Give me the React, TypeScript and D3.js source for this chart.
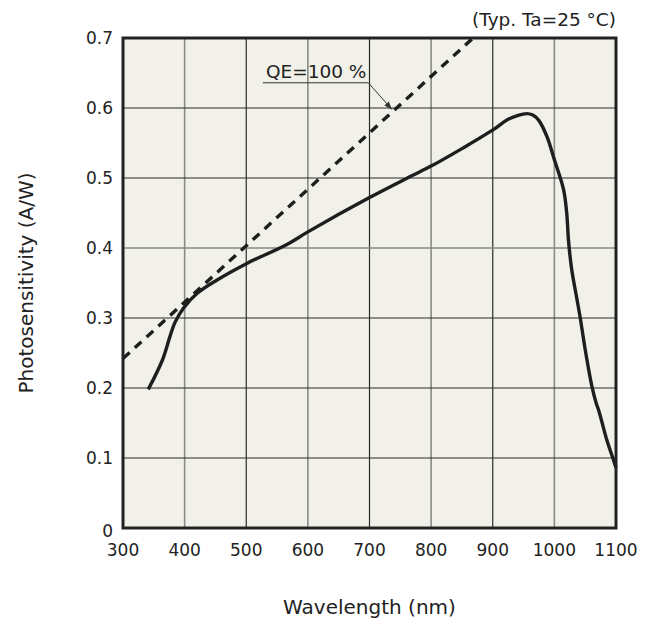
import * as React from 'react'
import * as d3 from 'd3'

// photosensitivity curve
const wavelength = [341, 364, 376, 384, 398, 420, 452, 501, 566, 600, 700, 766, 800, 850, 901, 923, 940, 955, 965, 975, 988, 1000, 1015, 1020, 1023, 1028, 1036, 1042, 1050, 1061, 1068, 1072, 1085, 1096, 1100]
const sensitivity = [0.198, 0.24, 0.273, 0.293, 0.314, 0.335, 0.354, 0.378, 0.405, 0.423, 0.472, 0.502, 0.517, 0.542, 0.569, 0.583, 0.589, 0.592, 0.59, 0.582, 0.559, 0.526, 0.483, 0.45, 0.41, 0.37, 0.33, 0.3, 0.255, 0.202, 0.178, 0.168, 0.126, 0.097, 0.086]

// QE = 100 % reference line (end points)
const qeWavelength = [300, 868]
const qeSensitivity = [0.242, 0.7]

const xTicks = [300, 400, 500, 600, 700, 800, 900, 1000, 1100]
const yTicks = [0, 0.1, 0.2, 0.3, 0.4, 0.5, 0.6, 0.7]
const majorX = [500, 700, 900]

const FONT = 'DejaVu Sans, Verdana, sans-serif'

export default function App() {
  const ref = React.useRef<SVGSVGElement>(null)

  React.useEffect(() => {
    const width = 656
    const height = 624
    const m = { left: 123, right: 40, top: 38, bottom: 96 }

    const svg = d3.select(ref.current)
    svg.selectAll('*').remove()

    const x = d3.scaleLinear().domain([300, 1100]).range([m.left, width - m.right])
    const y = d3.scaleLinear().domain([0, 0.7]).range([height - m.bottom, m.top])

    svg
      .append('rect')
      .attr('x', x(300))
      .attr('y', y(0.7))
      .attr('width', x(1100) - x(300))
      .attr('height', y(0) - y(0.7))
      .attr('fill', '#f2f1e9')

    // grid
    svg
      .append('g')
      .selectAll('line')
      .data(xTicks.slice(1, -1))
      .enter()
      .append('line')
      .attr('x1', (d) => x(d))
      .attr('x2', (d) => x(d))
      .attr('y1', y(0))
      .attr('y2', y(0.7))
      .attr('stroke', (d) => (majorX.includes(d) ? '#2a2a2a' : '#8a8a86'))
      .attr('stroke-width', (d) => (majorX.includes(d) ? 1.2 : 1.6))

    svg
      .append('g')
      .selectAll('line')
      .data(yTicks.slice(1, -1))
      .enter()
      .append('line')
      .attr('x1', x(300))
      .attr('x2', x(1100))
      .attr('y1', (d) => y(d))
      .attr('y2', (d) => y(d))
      .attr('stroke', (d) => (d === 0.4 ? '#8a8a86' : '#2a2a2a'))
      .attr('stroke-width', (d) => (d === 0.4 ? 1.6 : 1.2))

    // tick labels
    svg
      .append('g')
      .selectAll('text')
      .data(xTicks)
      .enter()
      .append('text')
      .attr('x', (d) => x(d))
      .attr('y', y(0) + 28)
      .attr('text-anchor', 'middle')
      .attr('font-family', FONT)
      .attr('font-size', 17)
      .attr('fill', '#222')
      .text((d) => d)

    svg
      .append('g')
      .selectAll('text')
      .data(yTicks)
      .enter()
      .append('text')
      .attr('x', x(300) - 10)
      .attr('y', (d) => y(d) + (d === 0 ? 9 : 6))
      .attr('text-anchor', 'end')
      .attr('font-family', FONT)
      .attr('font-size', 17)
      .attr('fill', '#222')
      .text((d) => (d === 0 ? '0' : d3.format('.1f')(d)))

    // QE line
    const qe = qeWavelength.map((w, i) => [w, qeSensitivity[i]] as [number, number])
    svg
      .append('path')
      .attr('d', d3.line().x((d) => x(d[0])).y((d) => y(d[1]))(qe))
      .attr('fill', 'none')
      .attr('stroke', '#1e1e1e')
      .attr('stroke-width', 3.4)
      .attr('stroke-dasharray', '9 7')

    // measured curve
    const pts = wavelength.map((w, i) => [w, sensitivity[i]] as [number, number])
    svg
      .append('path')
      .attr(
        'd',
        d3
          .line()
          .x((d) => x(d[0]))
          .y((d) => y(d[1]))
          .curve(d3.curveCatmullRom.alpha(0.5))(pts)
      )
      .attr('fill', 'none')
      .attr('stroke', '#1e1e1e')
      .attr('stroke-width', 3.4)
      .attr('stroke-linejoin', 'round')

    // annotation
    const tipW = 738
    const tipS = qeSensitivity[0] + ((tipW - qeWavelength[0]) / (qeWavelength[1] - qeWavelength[0])) * (qeSensitivity[1] - qeSensitivity[0])
    const ux0 = x(527)
    const ux1 = x(698)
    const uy = y(0.636)
    const tx = x(tipW) - 1
    const ty = y(tipS) - 2
    svg
      .append('polyline')
      .attr('points', `${ux0},${uy} ${ux1},${uy} ${tx},${ty}`)
      .attr('fill', 'none')
      .attr('stroke', '#333')
      .attr('stroke-width', 1)
    const ang = Math.atan2(ty - uy, tx - ux1)
    const al = 8
    const aw = 3
    const bx = tx - al * Math.cos(ang)
    const by = ty - al * Math.sin(ang)
    svg
      .append('path')
      .attr(
        'd',
        `M${tx},${ty}L${bx + aw * Math.sin(ang)},${by - aw * Math.cos(ang)}L${bx - aw * Math.sin(ang)},${by + aw * Math.cos(ang)}Z`
      )
      .attr('fill', '#333')
    svg
      .append('text')
      .attr('x', ux0 + 3)
      .attr('y', uy - 5)
      .attr('font-family', FONT)
      .attr('font-size', 18.5)
      .attr('fill', '#222')
      .text('QE=100 %')

    // frame
    svg
      .append('rect')
      .attr('x', x(300))
      .attr('y', y(0.7))
      .attr('width', x(1100) - x(300))
      .attr('height', y(0) - y(0.7))
      .attr('fill', 'none')
      .attr('stroke', '#222')
      .attr('stroke-width', 3)

    svg
      .append('text')
      .attr('x', x(1100))
      .attr('y', y(0.7) - 12)
      .attr('text-anchor', 'end')
      .attr('font-family', FONT)
      .attr('font-size', 18.5)
      .attr('fill', '#222')
      .text('(Typ. Ta=25 °C)')

    svg
      .append('text')
      .attr('x', (x(300) + x(1100)) / 2)
      .attr('y', 614)
      .attr('text-anchor', 'middle')
      .attr('font-family', FONT)
      .attr('font-size', 20)
      .attr('fill', '#222')
      .text('Wavelength (nm)')

    svg
      .append('text')
      .attr('transform', `translate(33,${(y(0) + y(0.7)) / 2}) rotate(-90)`)
      .attr('text-anchor', 'middle')
      .attr('font-family', FONT)
      .attr('font-size', 20)
      .attr('fill', '#222')
      .text('Photosensitivity (A/W)')
  }, [])

  return <svg ref={ref} width={656} height={624} style={{ position: 'absolute', left: 0, top: 0, background: '#fff' }} />
}
